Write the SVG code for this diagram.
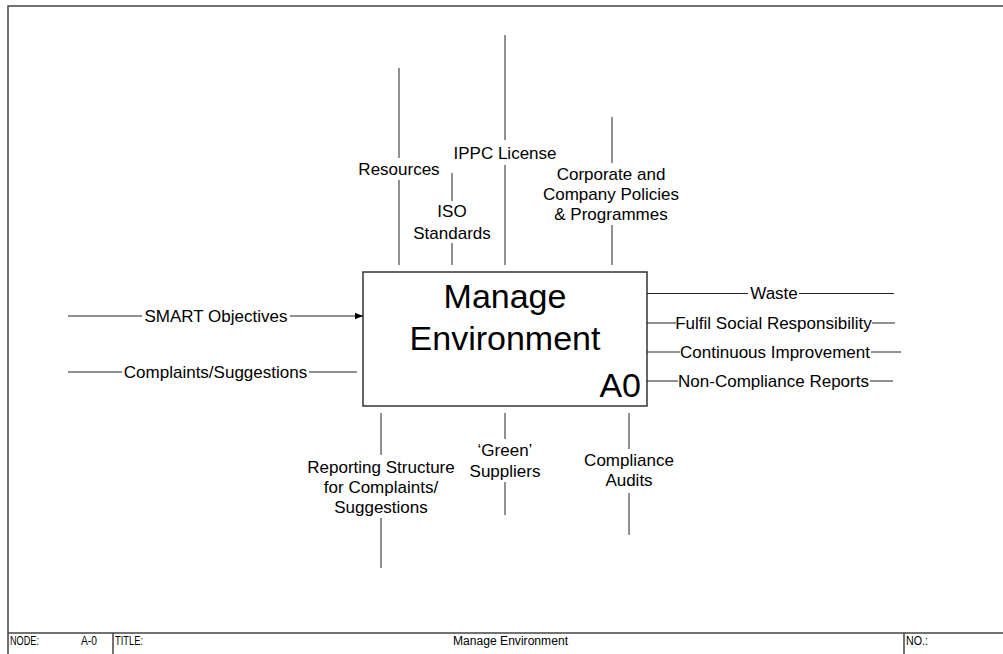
<svg xmlns="http://www.w3.org/2000/svg" width="1003" height="654" viewBox="0 0 1003 654">
<defs>
<style>
.frame{stroke:#444;stroke-width:1.5;fill:none}
.ln{stroke:#222;stroke-width:1;fill:none}
.lbl{font-family:"Liberation Sans",Arial,sans-serif;font-size:17px;fill:#000;text-anchor:middle}
.big{font-family:"Liberation Sans",Arial,sans-serif;font-size:34px;fill:#000}
.ft{font-family:"Liberation Sans",Arial,sans-serif;font-size:12px;fill:#000}
</style>
<marker id="arr" viewBox="0 0 10 10" refX="10" refY="5" markerWidth="8" markerHeight="8" markerUnits="userSpaceOnUse" orient="auto">
<path d="M0,1 L10,5 L0,9 Z" fill="#000"/>
</marker>
</defs>
<rect width="1003" height="654" fill="#fff"/>
<g id="frame">
<path class="frame" d="M8,654 V6 H1003"/>
<path class="frame" d="M8,633 H1003 M113,633 V654 M904,633 V654"/>
<text class="ft" x="10" y="645" textLength="29" lengthAdjust="spacingAndGlyphs">NODE:</text>
<text class="ft" x="81" y="645" textLength="16" lengthAdjust="spacingAndGlyphs">A-0</text>
<text class="ft" x="115" y="645" textLength="28" lengthAdjust="spacingAndGlyphs">TITLE:</text>
<text class="ft" x="453" y="645" textLength="115" lengthAdjust="spacingAndGlyphs">Manage Environment</text>
<text class="ft" x="906" y="645" textLength="22" lengthAdjust="spacingAndGlyphs">NO.:</text>
</g>
<g id="A0">
<rect x="363" y="272" width="284" height="134" fill="#fff" stroke="#333" stroke-width="1.5"/>
<text class="big" x="505" y="308" text-anchor="middle">Manage</text>
<text class="big" x="505" y="350" text-anchor="middle">Environment</text>
<text class="big" x="641" y="397" text-anchor="end">A0</text>
</g>
<g id="connectors">
<path class="ln" d="M68,316 H142"/>
<path class="ln" d="M290,316 H363" marker-end="url(#arr)"/>
<path class="ln" d="M68,372 H122 M309,372 H357"/>
<path class="ln" d="M647,293.5 H748 M799,293.5 H894"/>
<path class="ln" d="M647,323 H676 M872,323 H895"/>
<path class="ln" d="M647,352 H680 M871,352 H901"/>
<path class="ln" d="M647,381 H678 M870,381 H893"/>
<path class="ln" d="M399,68 V158 M399,180 V265"/>
<path class="ln" d="M452,173 V201 M452,243 V265"/>
<path class="ln" d="M505,35 V140 M505,165 V265"/>
<path class="ln" d="M612,117 V163 M612,225 V265"/>
<path class="ln" d="M381,413 V455 M381,518 V568"/>
<path class="ln" d="M505,413 V439 M505,482 V515"/>
<path class="ln" d="M629,413 V449 M629,493 V535"/>
</g>
<g id="labels">
<text class="lbl" x="216" y="322">SMART Objectives</text>
<text class="lbl" x="215.5" y="378">Complaints/Suggestions</text>
<text class="lbl" x="774" y="299">Waste</text>
<text class="lbl" x="773.5" y="329">Fulfil Social Responsibility</text>
<text class="lbl" x="775" y="358">Continuous Improvement</text>
<text class="lbl" x="773.5" y="387">Non-Compliance Reports</text>
<text class="lbl" x="399" y="175">Resources</text>
<text class="lbl" x="452" y="217">ISO</text>
<text class="lbl" x="452" y="239">Standards</text>
<text class="lbl" x="505" y="159">IPPC License</text>
<text class="lbl" x="611" y="180">Corporate and</text>
<text class="lbl" x="611" y="200">Company Policies</text>
<text class="lbl" x="611" y="220">&amp; Programmes</text>
<text class="lbl" x="381" y="473">Reporting Structure</text>
<text class="lbl" x="381" y="493">for Complaints/</text>
<text class="lbl" x="381" y="513">Suggestions</text>
<text class="lbl" x="505" y="456">‘Green’</text>
<text class="lbl" x="505" y="477">Suppliers</text>
<text class="lbl" x="629" y="466">Compliance</text>
<text class="lbl" x="629" y="486">Audits</text>
</g>
</svg>
